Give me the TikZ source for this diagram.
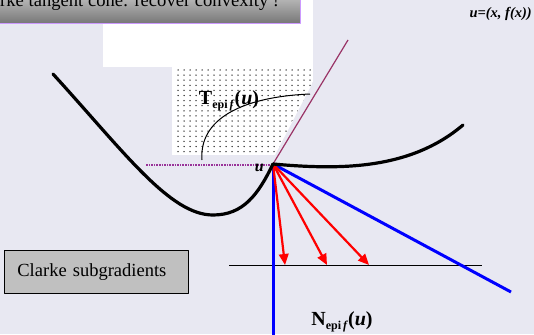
\documentclass[tikz,border=0pt]{standalone}
\usepackage{fontspec}
\setmainfont{Liberation Serif}
\usetikzlibrary{arrows.meta}
\definecolor{slidebg}{HTML}{E8E8F2}
\definecolor{titleedge}{HTML}{CC99FF}
\definecolor{conepurple}{HTML}{993366}
\definecolor{basepurple}{HTML}{993399}
\definecolor{normalblue}{HTML}{0000FF}
\definecolor{subgradred}{HTML}{FF0000}
\definecolor{boxgray}{HTML}{C0C0C0}
\newcommand{\episet}[1]{#1\raisebox{-4pt}{\fontsize{12}{14}\selectfont\bfseries epi\,\textit{f}}(\textit{u})}

\begin{document}
\begin{tikzpicture}[
  x=1pt,
  y=-1pt,
  line join=round,
  graph/.style={draw=black,line width=3.2pt,line cap=round},
  cone/.style={draw=conepurple,line width=1.2pt},
  conebase/.style={draw=basepurple,line width=1.6pt,densely dotted},
  normal/.style={draw=normalblue,line width=3pt},
  subgrad/.style={draw=subgradred,line width=2.2pt,-{Triangle[length=11pt,width=9.5pt]}},
  setlabel/.style={inner sep=0pt,font=\fontsize{20}{24}\selectfont\bfseries}
]
  % Slide area, 534 x 334 px.
  \useasboundingbox (0,0) rectangle (534,334);
  \clip (0,0) rectangle (534,334);
  \fill[slidebg] (0,0) rectangle (534,334);

  % Title bar, cut off at the slide edge.
  \fill[white] (103,-2) rectangle (313,67);
  \shade[top color=black!18,bottom color=black!54,draw=titleedge,line width=1pt]
    (-10,-12) rectangle (300,24);
  \node[anchor=base west,inner sep=0pt,font=\fontsize{18.6}{22}\selectfont] (title)
    at (-25.8,7) {Clarke tangent cone: recover convexity !};
  \node[anchor=base east,inner sep=0pt,font=\fontsize{14.5}{17}\selectfont\bfseries\itshape] (point)
    at (532,17.5) {u=(x, f(x))};

  % Dotted tangent cone region.
  \begin{scope}
    \clip (172,67) -- (313,67) -- (313,82) -- (275,155) -- (172,155) -- cycle;
    \fill[white] (172,67) rectangle (313,155);
    \foreach \row in {0,...,17} {
      \foreach \col in {0,...,24} {
        \fill[black!85] ({178+6*\col},{70+5.1*\row}) circle[radius=0.75];
      }
    }
  \end{scope}

  % Key points.
  \coordinate (u) at (273,164);
  \coordinate (conetip) at (348,40);
  \coordinate (baseleft) at (146,165);
  \coordinate (baseright) at (273,165);
  \coordinate (nvert) at (273,336);
  \coordinate (ndiag) at (511,292);
  \coordinate (levelleft) at (229,265);
  \coordinate (levelright) at (482,265);
  \coordinate (g1) at (285,265);
  \coordinate (g2) at (327,265);
  \coordinate (g3) at (369,265);

  % Tangent cone boundary.
  \draw[conebase] (baseleft) -- (baseright);
  \draw[cone] (u) -- (conetip);
  \node[setlabel] (tcone) at (229,101) {\episet{T}};
  \draw[line width=1pt] (202,160) .. controls (199,120) and (240,97) .. (310,94);

  % Normal cone and Clarke subgradients.
  \draw[line width=1pt] (levelleft) -- (levelright);
  \draw[normal] (u) -- (nvert);
  \draw[normal] (u) -- (ndiag);
  \foreach \g in {g1,g2,g3} {
    \draw[subgrad] (u) -- (\g);
  }

  % Graph of f with a kink at u.
  \draw[graph] (53,74) .. controls (125,153) and (170,215) .. (213,215)
    .. controls (243,215) and (258,195) .. (u);
  \draw[graph] (u) .. controls (340,170) and (410,170) .. (463,125);

  \node[anchor=base east,inner sep=0pt,font=\fontsize{16}{19}\selectfont\bfseries\itshape] (ulabel)
    at (264,171) {u};
  \node[setlabel] (ncone) at (342,322) {\episet{N}};

  \node[draw=black,line width=0.8pt,fill=boxgray,anchor=north west,
    minimum height=43pt,text width=158pt,inner xsep=13pt,
    font=\fontsize{18.5}{22}\selectfont] (clarke) at (4,250) {Clarke subgradients};
\end{tikzpicture}
\end{document}
